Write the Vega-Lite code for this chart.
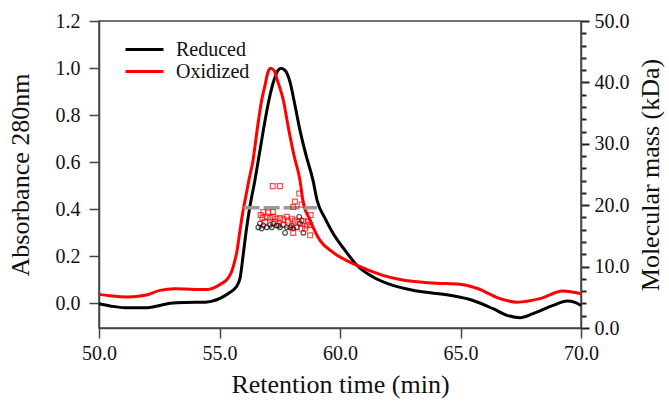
{
  "$schema": "https://vega.github.io/schema/vega-lite/v6.json",
  "width": 482,
  "height": 307,
  "autosize": {"type": "none"},
  "padding": {"left": 99, "top": 21, "right": 88, "bottom": 73},
  "background": "white",
  "config": {
    "view": {"stroke": "#444", "strokeWidth": 1.5},
    "axis": {
      "labelFont": "Liberation Serif", "labelFontSize": 20, "labelColor": "#111",
      "titleFont": "Liberation Serif", "titleFontSize": 26, "titleFontWeight": "normal", "titleColor": "#111",
      "domainColor": "#444", "tickColor": "#444", "domainWidth": 1.5, "tickWidth": 1.5, "tickSize": 10,
      "grid": false, "labelFlush": false, "labelOverlap": false
    },
    "legend": {
      "orient": "none", "legendX": 34, "legendY": 17, "symbolType": "M-1.9,0H1.9", "symbolSize": 400,
      "symbolStrokeWidth": 3, "labelFont": "Liberation Serif", "labelFontSize": 20, "labelColor": "#111",
      "labelOffset": 20, "padding": 0, "rowPadding": 0, "titlePadding": 0
    }
  },
  "datasets": {
    "curves": [
      {"series": "Reduced", "t": 50.00, "abs": -0.003},
      {"series": "Reduced", "t": 50.46, "abs": -0.012},
      {"series": "Reduced", "t": 51.08, "abs": -0.020},
      {"series": "Reduced", "t": 51.91, "abs": -0.020},
      {"series": "Reduced", "t": 52.53, "abs": -0.010},
      {"series": "Reduced", "t": 52.95, "abs": -0.001},
      {"series": "Reduced", "t": 53.57, "abs": 0.003},
      {"series": "Reduced", "t": 54.40, "abs": 0.004},
      {"series": "Reduced", "t": 55.02, "abs": 0.020},
      {"series": "Reduced", "t": 55.44, "abs": 0.046},
      {"series": "Reduced", "t": 55.68, "abs": 0.067},
      {"series": "Reduced", "t": 55.85, "abs": 0.105},
      {"series": "Reduced", "t": 55.98, "abs": 0.203},
      {"series": "Reduced", "t": 56.10, "abs": 0.301},
      {"series": "Reduced", "t": 56.27, "abs": 0.416},
      {"series": "Reduced", "t": 56.47, "abs": 0.523},
      {"series": "Reduced", "t": 56.68, "abs": 0.650},
      {"series": "Reduced", "t": 56.89, "abs": 0.777},
      {"series": "Reduced", "t": 57.05, "abs": 0.863},
      {"series": "Reduced", "t": 57.26, "abs": 0.948},
      {"series": "Reduced", "t": 57.43, "abs": 0.990},
      {"series": "Reduced", "t": 57.55, "abs": 0.999},
      {"series": "Reduced", "t": 57.72, "abs": 0.990},
      {"series": "Reduced", "t": 57.93, "abs": 0.939},
      {"series": "Reduced", "t": 58.09, "abs": 0.863},
      {"series": "Reduced", "t": 58.34, "abs": 0.735},
      {"series": "Reduced", "t": 58.59, "abs": 0.629},
      {"series": "Reduced", "t": 58.88, "abs": 0.522},
      {"series": "Reduced", "t": 59.05, "abs": 0.437},
      {"series": "Reduced", "t": 59.38, "abs": 0.360},
      {"series": "Reduced", "t": 59.71, "abs": 0.297},
      {"series": "Reduced", "t": 60.21, "abs": 0.224},
      {"series": "Reduced", "t": 60.71, "abs": 0.160},
      {"series": "Reduced", "t": 61.37, "abs": 0.111},
      {"series": "Reduced", "t": 62.20, "abs": 0.075},
      {"series": "Reduced", "t": 63.20, "abs": 0.051},
      {"series": "Reduced", "t": 64.56, "abs": 0.033},
      {"series": "Reduced", "t": 65.52, "abs": 0.011},
      {"series": "Reduced", "t": 66.35, "abs": -0.024},
      {"series": "Reduced", "t": 66.93, "abs": -0.052},
      {"series": "Reduced", "t": 67.47, "abs": -0.062},
      {"series": "Reduced", "t": 68.01, "abs": -0.045},
      {"series": "Reduced", "t": 68.84, "abs": -0.010},
      {"series": "Reduced", "t": 69.42, "abs": 0.009},
      {"series": "Reduced", "t": 69.75, "abs": 0.003},
      {"series": "Reduced", "t": 70.00, "abs": -0.010},
      {"series": "Oxidized", "t": 50.00, "abs": 0.037},
      {"series": "Oxidized", "t": 50.46, "abs": 0.031},
      {"series": "Oxidized", "t": 51.20, "abs": 0.026},
      {"series": "Oxidized", "t": 51.91, "abs": 0.033},
      {"series": "Oxidized", "t": 52.53, "abs": 0.054},
      {"series": "Oxidized", "t": 53.15, "abs": 0.061},
      {"series": "Oxidized", "t": 53.98, "abs": 0.058},
      {"series": "Oxidized", "t": 54.52, "abs": 0.058},
      {"series": "Oxidized", "t": 54.81, "abs": 0.067},
      {"series": "Oxidized", "t": 55.10, "abs": 0.084},
      {"series": "Oxidized", "t": 55.35, "abs": 0.105},
      {"series": "Oxidized", "t": 55.52, "abs": 0.139},
      {"series": "Oxidized", "t": 55.64, "abs": 0.182},
      {"series": "Oxidized", "t": 55.73, "abs": 0.224},
      {"series": "Oxidized", "t": 55.85, "abs": 0.309},
      {"series": "Oxidized", "t": 55.98, "abs": 0.394},
      {"series": "Oxidized", "t": 56.10, "abs": 0.458},
      {"series": "Oxidized", "t": 56.22, "abs": 0.523},
      {"series": "Oxidized", "t": 56.39, "abs": 0.607},
      {"series": "Oxidized", "t": 56.56, "abs": 0.735},
      {"series": "Oxidized", "t": 56.75, "abs": 0.863},
      {"series": "Oxidized", "t": 56.89, "abs": 0.927},
      {"series": "Oxidized", "t": 57.01, "abs": 0.982},
      {"series": "Oxidized", "t": 57.12, "abs": 0.999},
      {"series": "Oxidized", "t": 57.26, "abs": 0.990},
      {"series": "Oxidized", "t": 57.43, "abs": 0.939},
      {"series": "Oxidized", "t": 57.65, "abs": 0.863},
      {"series": "Oxidized", "t": 57.84, "abs": 0.756},
      {"series": "Oxidized", "t": 58.09, "abs": 0.629},
      {"series": "Oxidized", "t": 58.34, "abs": 0.522},
      {"series": "Oxidized", "t": 58.46, "abs": 0.437},
      {"series": "Oxidized", "t": 58.76, "abs": 0.352},
      {"series": "Oxidized", "t": 59.17, "abs": 0.267},
      {"series": "Oxidized", "t": 59.71, "abs": 0.216},
      {"series": "Oxidized", "t": 60.71, "abs": 0.160},
      {"series": "Oxidized", "t": 61.78, "abs": 0.118},
      {"series": "Oxidized", "t": 62.49, "abs": 0.100},
      {"series": "Oxidized", "t": 63.86, "abs": 0.085},
      {"series": "Oxidized", "t": 64.98, "abs": 0.080},
      {"series": "Oxidized", "t": 65.68, "abs": 0.063},
      {"series": "Oxidized", "t": 66.64, "abs": 0.019},
      {"series": "Oxidized", "t": 67.34, "abs": 0.004},
      {"series": "Oxidized", "t": 68.30, "abs": 0.019},
      {"series": "Oxidized", "t": 69.25, "abs": 0.051},
      {"series": "Oxidized", "t": 70.00, "abs": 0.040}
    ],
    "mass": [
      {"series": "Oxidized", "t": 57.21, "kda": 23.1},
      {"series": "Oxidized", "t": 57.51, "kda": 23.1},
      {"series": "Oxidized", "t": 58.31, "kda": 21.9},
      {"series": "Oxidized", "t": 58.13, "kda": 20.6},
      {"series": "Oxidized", "t": 58.41, "kda": 20.1},
      {"series": "Oxidized", "t": 58.06, "kda": 19.7},
      {"series": "Oxidized", "t": 58.78, "kda": 18.4},
      {"series": "Oxidized", "t": 56.71, "kda": 18.4},
      {"series": "Oxidized", "t": 56.82, "kda": 18.9},
      {"series": "Oxidized", "t": 57.02, "kda": 18.8},
      {"series": "Oxidized", "t": 57.21, "kda": 18.9},
      {"series": "Oxidized", "t": 56.79, "kda": 17.9},
      {"series": "Oxidized", "t": 56.96, "kda": 18.1},
      {"series": "Oxidized", "t": 57.10, "kda": 17.9},
      {"series": "Oxidized", "t": 57.23, "kda": 18.1},
      {"series": "Oxidized", "t": 57.37, "kda": 17.8},
      {"series": "Oxidized", "t": 57.51, "kda": 17.9},
      {"series": "Oxidized", "t": 57.65, "kda": 17.7},
      {"series": "Oxidized", "t": 57.79, "kda": 18.1},
      {"series": "Oxidized", "t": 57.85, "kda": 17.5},
      {"series": "Oxidized", "t": 58.00, "kda": 17.8},
      {"series": "Oxidized", "t": 58.13, "kda": 17.5},
      {"series": "Oxidized", "t": 58.27, "kda": 17.3},
      {"series": "Oxidized", "t": 58.48, "kda": 17.4},
      {"series": "Oxidized", "t": 58.68, "kda": 17.3},
      {"series": "Oxidized", "t": 58.62, "kda": 16.7},
      {"series": "Oxidized", "t": 58.76, "kda": 16.8},
      {"series": "Oxidized", "t": 58.55, "kda": 16.2},
      {"series": "Oxidized", "t": 56.89, "kda": 17.3},
      {"series": "Oxidized", "t": 57.30, "kda": 17.3},
      {"series": "Oxidized", "t": 57.65, "kda": 16.8},
      {"series": "Oxidized", "t": 58.06, "kda": 15.5},
      {"series": "Oxidized", "t": 58.76, "kda": 15.1},
      {"series": "Oxidized", "t": 58.41, "kda": 16.2},
      {"series": "Oxidized", "t": 58.00, "kda": 16.4},
      {"series": "Reduced", "t": 56.61, "kda": 16.4},
      {"series": "Reduced", "t": 56.68, "kda": 17.0},
      {"series": "Reduced", "t": 56.82, "kda": 16.7},
      {"series": "Reduced", "t": 56.96, "kda": 16.4},
      {"series": "Reduced", "t": 57.10, "kda": 16.8},
      {"series": "Reduced", "t": 57.23, "kda": 17.0},
      {"series": "Reduced", "t": 57.37, "kda": 16.7},
      {"series": "Reduced", "t": 57.51, "kda": 16.4},
      {"series": "Reduced", "t": 57.65, "kda": 16.8},
      {"series": "Reduced", "t": 57.79, "kda": 16.4},
      {"series": "Reduced", "t": 57.93, "kda": 16.4},
      {"series": "Reduced", "t": 58.06, "kda": 16.2},
      {"series": "Reduced", "t": 58.20, "kda": 16.4},
      {"series": "Reduced", "t": 58.31, "kda": 18.1},
      {"series": "Reduced", "t": 58.34, "kda": 17.0},
      {"series": "Reduced", "t": 58.41, "kda": 17.5},
      {"series": "Reduced", "t": 56.75, "kda": 16.2},
      {"series": "Reduced", "t": 57.17, "kda": 16.4},
      {"series": "Reduced", "t": 57.72, "kda": 15.5},
      {"series": "Reduced", "t": 58.48, "kda": 15.5},
      {"series": "Reduced", "t": 57.44, "kda": 16.7},
      {"series": "Reduced", "t": 58.00, "kda": 16.7}
    ],
    "avg": [
      {"t": 56.0, "kda": 19.6},
      {"t": 59.05, "kda": 19.6}
    ]
  },
  "encoding": {
    "x": {"field": "t", "type": "quantitative", "scale": {"domain": [50, 70], "nice": false},
      "axis": {"values": [50, 55, 60, 65, 70], "format": ".1f", "title": "Retention time (min)", "labelPadding": 5, "titlePadding": 8}}
  },
  "layer": [
    {
      "data": {"name": "curves"},
      "encoding": {
        "y": {"field": "abs", "type": "quantitative", "scale": {"domain": [-0.106, 1.2], "nice": false, "zero": false},
          "axis": {"orient": "left", "values": [0, 0.2, 0.4, 0.6, 0.8, 1.0, 1.2], "format": ".1f", "title": "Absorbance 280nm", "labelPadding": 9, "titlePadding": 22}},
        "color": {"field": "series", "type": "nominal",
          "scale": {"domain": ["Reduced", "Oxidized"], "range": ["#000000", "#ff0000"]},
          "legend": {"title": null}}
      },
      "layer": [
        {"transform": [{"filter": "datum.series === 'Reduced'"}], "mark": {"type": "line", "strokeWidth": 3, "interpolate": "monotone"}},
        {"transform": [{"filter": "datum.series === 'Oxidized'"}], "mark": {"type": "line", "strokeWidth": 3, "interpolate": "monotone"}}
      ]
    },
    {
      "data": {"name": "avg"},
      "mark": {"type": "line", "color": "#999999", "strokeWidth": 3.5, "strokeDash": [16, 4]},
      "encoding": {
        "y": {"field": "kda", "type": "quantitative", "scale": {"domain": [0, 50], "nice": false},
          "axis": {"orient": "right", "values": [2, 4, 6, 8, 12, 14, 16, 18, 22, 24, 26, 28, 32, 34, 36, 38, 42, 44, 46, 48],
            "labels": false, "domain": false, "title": null, "ticks": true, "tickSize": 5, "tickColor": "#222222", "tickWidth": 2}}
      }
    },
    {
      "encoding": {
        "y": {"field": "kda", "type": "quantitative", "scale": {"domain": [0, 50], "nice": false},
          "axis": {"orient": "right", "values": [0, 10, 20, 30, 40, 50], "format": ".1f", "ticks": true, "tickSize": 8, "tickColor": "#222222", "tickWidth": 2,
            "title": "Molecular mass (kDa)", "titleAngle": 270, "titleBaseline": "top", "labelPadding": 5, "titlePadding": 8}}
      },
      "layer": [
        {"data": {"name": "mass"}, "transform": [{"filter": "datum.series === 'Reduced'"}],
          "mark": {"type": "point", "shape": "circle", "filled": false, "strokeWidth": 1.2, "color": "#000000", "size": 22}},
        {"data": {"name": "mass"}, "transform": [{"filter": "datum.series === 'Oxidized'"}],
          "mark": {"type": "point", "shape": "square", "filled": false, "strokeWidth": 1.2, "color": "#ff0000", "size": 24}}
      ]
    }
  ],
  "resolve": {"scale": {"y": "independent"}}
}
